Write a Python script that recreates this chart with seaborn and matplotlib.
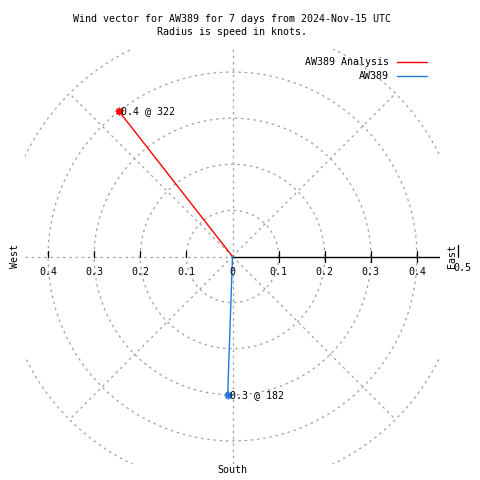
import numpy as np
import pandas as pd
import matplotlib
matplotlib.use('Agg')
import matplotlib.pyplot as plt
import seaborn as sns

# Wind vectors (speed in knots, direction in degrees)
names = ['AW389 Analysis', 'AW389']
speeds = [0.4, 0.3]
directions = [322, 182]
colors = ['#ff0000', '#1f78e0']

rings = [0.1, 0.2, 0.3, 0.4, 0.5]
tick_vals = [0.1, 0.2, 0.3, 0.4]
lim = 0.45

sns.set_style('white')
plt.rcParams['font.family'] = ['DejaVu Sans Mono']
plt.rcParams['text.color'] = 'black'
fs = 7.2

fig = plt.figure(figsize=(4.8, 4.8), dpi=100)
ax = fig.add_axes([25 / 480, 16 / 480, 415 / 480, 415 / 480])
ax.set_xlim(-lim, lim)
ax.set_ylim(-lim, lim)
ax.set_aspect('equal')
ax.axis('off')

grid_kw = dict(color='#a0a0a0', lw=0.9, ls=(0, (2, 3)))

# polar grid: rings, axes, diagonals
t = np.linspace(0, 2 * np.pi, 400)
for r in rings:
    ax.plot(r * np.cos(t), r * np.sin(t), **grid_kw)
ax.plot([0, 0], [-lim, lim], **grid_kw)
ax.plot([-lim, 0], [0, 0], **grid_kw)
for a in [45, 135, 225, 315]:
    ax.plot([0, 0.5 * np.cos(np.radians(a))], [0, 0.5 * np.sin(np.radians(a))], **grid_kw)

# radial axis along east
ax.plot([0, lim], [0, 0], color='black', lw=1)
for v in tick_vals:
    ax.plot([v, v], [-0.011, 0.011], color='black', lw=0.9)
    ax.plot([-v, -v], [0.0, 0.011], color='black', lw=0.9)
    ax.text(v, -0.034, f'{v:g}', ha='center', va='center', fontsize=fs)
    ax.text(-v, -0.034, f'{v:g}', ha='center', va='center', fontsize=fs)
ax.text(0, -0.034, '0', ha='center', va='center', fontsize=fs)
ax.plot([0.49, 0.49], [0.0, 0.026], color='black', lw=0.9, clip_on=False)
ax.text(0.499, -0.024, '0.5', ha='center', va='center', fontsize=fs, clip_on=False)

ax.text(-0.472, 0, 'West', rotation=90, ha='center', va='center', fontsize=fs)
ax.text(0.475, 0, 'East', rotation=90, ha='center', va='center', fontsize=fs)
ax.text(0, -0.462, 'South', ha='center', va='center', fontsize=fs)

# vectors
for name, s, d, c in zip(names, speeds, directions, colors):
    th = np.radians(d)
    df = pd.DataFrame({'x': [0, s * np.sin(th)], 'y': [0, s * np.cos(th)]})
    sns.lineplot(data=df, x='x', y='y', ax=ax, color=c, lw=1, sort=False,
                 estimator=None, label=name)
    ax.plot(df['x'].iloc[-1], df['y'].iloc[-1], marker=(8, 2, 0), ms=5.5,
            color=c, mew=1)
    ax.text(df['x'].iloc[-1] + 0.004, df['y'].iloc[-1], f'{s:g} @ {d}',
            ha='left', va='center', fontsize=fs)

ax.set_xlabel('')
ax.set_ylabel('')
leg = ax.legend(loc='upper right', bbox_to_anchor=(402 / 415, 1.0 - 8 / 415),
                frameon=False, markerfirst=False, fontsize=fs,
                handlelength=3.0, handletextpad=0.8, labelspacing=0.4,
                borderpad=0, borderaxespad=0)

fig.text(0.483, 1 - 19 / 480, 'Wind vector for AW389 for 7 days from 2024-Nov-15 UTC',
         ha='center', va='center', fontsize=fs)
fig.text(0.483, 1 - 32 / 480, 'Radius is speed in knots.',
         ha='center', va='center', fontsize=fs)

fig.savefig('out.png', dpi=100)
